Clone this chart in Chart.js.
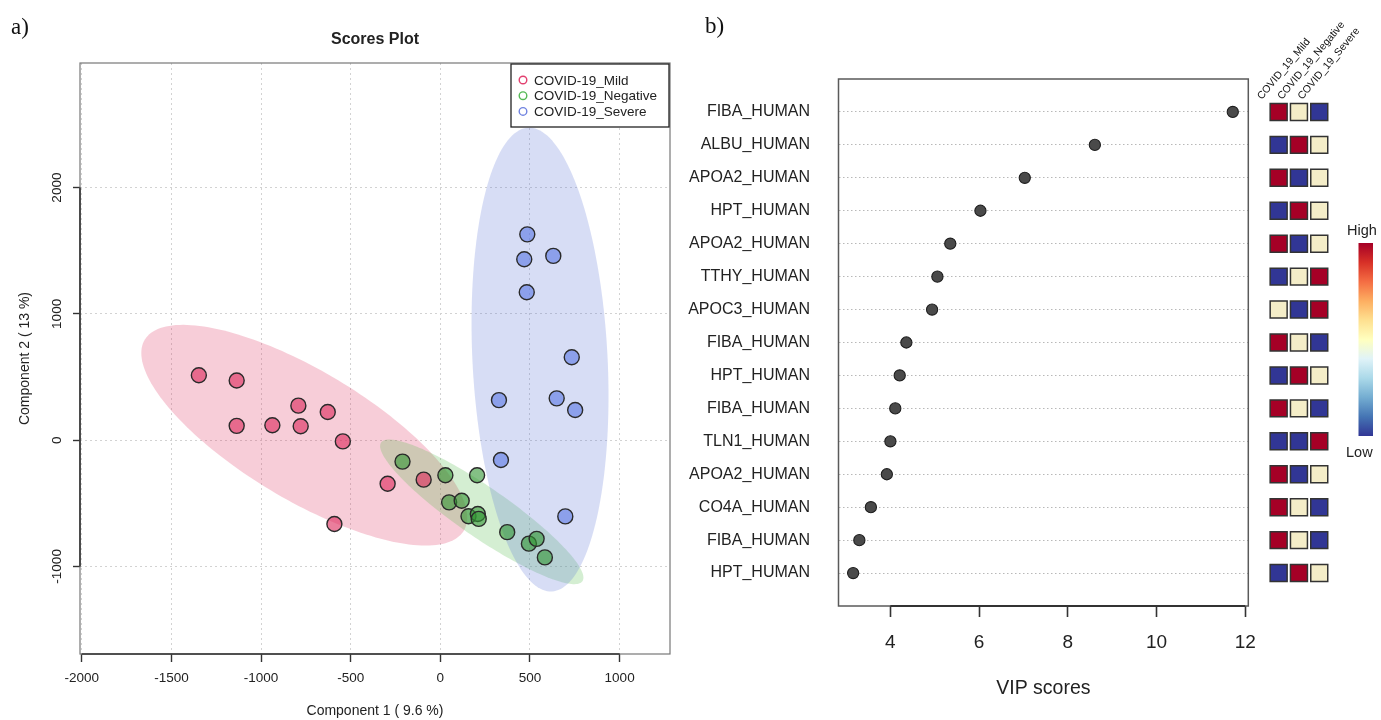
<!DOCTYPE html>
<html>
<head>
<meta charset="utf-8">
<title>Scores plot and VIP scores</title>
<script src="https://cdn.jsdelivr.net/npm/chart.js@4.4.1/dist/chart.umd.min.js"></script>
<style>
  html, body { margin: 0; padding: 0; background: #fff; }
  body { width: 1381px; height: 720px; position: relative; overflow: hidden; }
  canvas { position: absolute; top: 0; }
  #cvScores { left: 0; }
  #cvVip { left: 660px; }
  #cvHeat { left: 1255px; }
  .tag { position: absolute; font-family: "Liberation Serif", "DejaVu Serif", serif; font-size: 23px; color: #111; }
</style>
</head>
<body>
<canvas id="cvScores" width="690" height="720"></canvas>
<canvas id="cvVip" width="595" height="720"></canvas>
<canvas id="cvHeat" width="126" height="720"></canvas>
<div class="tag" style="left:11px;top:14px">a)</div>
<div class="tag" style="left:705px;top:13px">b)</div>
<script>
// ---- scores plot data (component 1 / component 2) ----
const groups = ['COVID-19_Mild', 'COVID-19_Negative', 'COVID-19_Severe'];
const mildX = [-1347, -1136, -1136, -937, -792, -779, -628, -544, -294, -93, -591];
const mildY = [514, 472, 113, 118, 273, 110, 223, -10, -346, -313, -664];
const negX = [-211, 28, 205, 49, 119, 157, 209, 214, 373, 494, 537, 583];
const negY = [-170, -278, -278, -493, -480, -603, -585, -624, -729, -820, -782, -929];
const sevX = [485, 468, 630, 482, 733, 327, 649, 752, 338, 697];
const sevY = [1630, 1433, 1459, 1171, 656, 317, 331, 239, -157, -604];
const scoreXTicks = [-2000, -1500, -1000, -500, 0, 500, 1000];
const scoreYTicks = [-1000, 0, 1000, 2000];

// 95% ellipses: centre, x half-extent, and y components (data units)
const ellCx = [-759, 231, 556];
const ellCy = [39, -568, 638];
const ellAx = [909, 567, 382];
const ellAy = [-651, -521, -289];
const ellBy = [583, 238, 1814];

// ---- VIP data ----
const proteins = ['FIBA_HUMAN', 'ALBU_HUMAN', 'APOA2_HUMAN', 'HPT_HUMAN', 'APOA2_HUMAN', 'TTHY_HUMAN', 'APOC3_HUMAN',
  'FIBA_HUMAN', 'HPT_HUMAN', 'FIBA_HUMAN', 'TLN1_HUMAN', 'APOA2_HUMAN', 'CO4A_HUMAN', 'FIBA_HUMAN', 'HPT_HUMAN'];
const vipScores = [11.72, 8.61, 7.03, 6.03, 5.35, 5.06, 4.94, 4.36, 4.21, 4.11, 4.00, 3.92, 3.56, 3.30, 3.16];
const vipTicks = [4, 6, 8, 10, 12];

// relative level per group: 3 = high, 2 = mid, 1 = low
const heatGroups = ['COVID_19_Mild', 'COVID_19_Negative', 'COVID_19_Severe'];
const mildLevel = [3, 1, 3, 1, 3, 1, 2, 3, 1, 3, 1, 3, 3, 3, 1];
const negLevel = [2, 3, 1, 3, 1, 2, 1, 2, 3, 2, 1, 1, 2, 2, 3];
const sevLevel = [1, 2, 2, 2, 2, 3, 3, 1, 2, 1, 3, 2, 1, 1, 2];

const SANS = '"Liberation Sans", Arial, sans-serif';
Chart.defaults.font.family = SANS;
Chart.defaults.color = '#222';

const pointFill = ['rgba(220,40,90,0.6)', 'rgba(50,150,52,0.6)', 'rgba(90,119,228,0.6)'];
const ellFill = ['rgba(223,55,99,0.25)', 'rgba(83,187,75,0.25)', 'rgba(95,119,215,0.25)'];
const legendCol = ['#e2406f', '#55b955', '#6f82e0'];

const toPts = (xs, ys) => xs.map((x, i) => ({ x, y: ys[i] }));
const noSidePad = s => { s.paddingLeft = 0; s.paddingRight = 0; };

const scoresDecor = {
  id: 'scoresDecor',
  beforeDatasetsDraw(chart) {
    const { ctx, chartArea: a, scales: { x, y } } = chart;
    ctx.save();
    ctx.beginPath();
    ctx.rect(a.left, a.top, a.right - a.left, a.bottom - a.top);
    ctx.clip();
    for (let g = 0; g < ellCx.length; g++) {
      ctx.beginPath();
      for (let k = 0; k <= 180; k++) {
        const t = k / 180 * Math.PI * 2;
        const vx = ellCx[g] + ellAx[g] * Math.cos(t);
        const vy = ellCy[g] + ellAy[g] * Math.cos(t) + ellBy[g] * Math.sin(t);
        const px = x.getPixelForValue(vx), py = y.getPixelForValue(vy);
        if (k) ctx.lineTo(px, py); else ctx.moveTo(px, py);
      }
      ctx.closePath();
      ctx.fillStyle = ellFill[g];
      ctx.fill();
    }
    ctx.restore();
  },
  afterDraw(chart) {
    const { ctx, chartArea: a, scales: { x, y } } = chart;
    ctx.save();
    // box + axis lines
    ctx.strokeStyle = '#777';
    ctx.lineWidth = 1.2;
    ctx.strokeRect(a.left, a.top, a.right - a.left, a.bottom - a.top);
    ctx.strokeStyle = '#333';
    ctx.lineWidth = 1.6;
    ctx.beginPath();
    ctx.moveTo(x.getPixelForValue(scoreXTicks[0]), a.bottom);
    ctx.lineTo(x.getPixelForValue(scoreXTicks[scoreXTicks.length - 1]), a.bottom);
    ctx.moveTo(a.left, y.getPixelForValue(scoreYTicks[0]));
    ctx.lineTo(a.left, y.getPixelForValue(scoreYTicks[scoreYTicks.length - 1]));
    ctx.stroke();

    // y tick labels, parallel to the axis
    ctx.fillStyle = '#222';
    ctx.font = '13.5px ' + SANS;
    ctx.textAlign = 'center';
    ctx.textBaseline = 'middle';
    scoreYTicks.forEach(v => {
      ctx.save();
      ctx.translate(57, y.getPixelForValue(v));
      ctx.rotate(-Math.PI / 2);
      ctx.fillText(String(v), 0, 0);
      ctx.restore();
    });

    // titles
    const cx = (a.left + a.right) / 2;
    ctx.font = 'bold 16px ' + SANS;
    ctx.fillText('Scores Plot', cx, 40);
    ctx.font = '14px ' + SANS;
    ctx.fillText('Component 1 ( 9.6 %)', cx, 711);
    ctx.save();
    ctx.translate(25, (a.top + a.bottom) / 2);
    ctx.rotate(-Math.PI / 2);
    ctx.fillText('Component 2 ( 13 %)', 0, 0);
    ctx.restore();

    // legend (top right, inside)
    const lx = a.right - 159, ly = a.top + 1;
    ctx.fillStyle = '#fff';
    ctx.fillRect(lx, ly, 158, 63);
    ctx.strokeStyle = '#222';
    ctx.lineWidth = 1.3;
    ctx.strokeRect(lx, ly, 158, 63);
    ctx.font = '13.5px ' + SANS;
    ctx.textAlign = 'left';
    groups.forEach((g, i) => {
      const yy = ly + 16 + i * 15.7;
      ctx.beginPath();
      ctx.arc(lx + 12, yy, 3.8, 0, Math.PI * 2);
      ctx.strokeStyle = legendCol[i];
      ctx.lineWidth = 1.4;
      ctx.stroke();
      ctx.fillStyle = '#222';
      ctx.fillText(g, lx + 23, yy + 1);
    });
    ctx.restore();
  }
};

new Chart(document.getElementById('cvScores'), {
  type: 'scatter',
  data: {
    datasets: [
      { label: groups[0], data: toPts(mildX, mildY), backgroundColor: pointFill[0] },
      { label: groups[1], data: toPts(negX, negY), backgroundColor: pointFill[1] },
      { label: groups[2], data: toPts(sevX, sevY), backgroundColor: pointFill[2] }
    ]
  },
  options: {
    responsive: false,
    animation: false,
    layout: { padding: { top: 63, right: 20, left: 0, bottom: 0 } },
    elements: { point: { radius: 7.5, borderColor: '#2a2a2a', borderWidth: 1.4 } },
    plugins: { legend: { display: false }, tooltip: { enabled: false } },
    scales: {
      x: {
        type: 'linear', min: -2010, max: 1281,
        afterBuildTicks: s => { s.ticks = scoreXTicks.map(v => ({ value: v })); },
        afterFit: s => { s.height = 66; noSidePad(s); },
        grid: { color: '#d2d2d2', tickColor: '#333', tickLength: 8, tickWidth: 1.4 },
        border: { display: false, dash: [2, 3] },
        ticks: { font: { size: 13.5 }, padding: 8, maxRotation: 0, callback: v => String(v) }
      },
      y: {
        type: 'linear', min: -1694, max: 2987,
        afterBuildTicks: s => { s.ticks = scoreYTicks.map(v => ({ value: v })); },
        afterFit: s => { s.width = 80; },
        grid: { color: '#d2d2d2', tickColor: '#333', tickLength: 7, tickWidth: 1.4 },
        border: { display: false, dash: [2, 3] },
        ticks: { display: false }
      }
    }
  },
  plugins: [scoresDecor]
});

// ---- panel b: VIP dot chart ----
const vipDecor = {
  id: 'vipDecor',
  afterDraw(chart) {
    const { ctx, chartArea: a, scales: { x } } = chart;
    ctx.save();
    ctx.strokeStyle = '#5a5a5a';
    ctx.lineWidth = 1.5;
    ctx.strokeRect(a.left, a.top, a.right - a.left, a.bottom - a.top);
    ctx.strokeStyle = '#333';
    ctx.lineWidth = 1.8;
    ctx.beginPath();
    ctx.moveTo(x.getPixelForValue(vipTicks[0]), a.bottom);
    ctx.lineTo(x.getPixelForValue(vipTicks[vipTicks.length - 1]), a.bottom);
    ctx.stroke();
    ctx.fillStyle = '#222';
    ctx.font = '19.5px ' + SANS;
    ctx.textAlign = 'center';
    ctx.textBaseline = 'middle';
    ctx.fillText('VIP scores', (a.left + a.right) / 2, 689);
    ctx.restore();
  }
};

new Chart(document.getElementById('cvVip'), {
  type: 'scatter',
  data: {
    datasets: [{
      label: 'VIP',
      data: vipScores.map((v, i) => ({ x: v, y: i + 1 })),
      backgroundColor: '#4a4a4a',
      borderColor: '#1e1e1e',
      borderWidth: 1.1,
      pointRadius: 5.6
    }]
  },
  options: {
    responsive: false,
    animation: false,
    layout: { padding: { top: 79, right: 6, left: 0, bottom: 0 } },
    plugins: { legend: { display: false }, tooltip: { enabled: false } },
    scales: {
      x: {
        type: 'linear', min: 2.83, max: 12.07,
        afterBuildTicks: s => { s.ticks = vipTicks.map(v => ({ value: v })); },
        afterFit: s => { s.height = 114; noSidePad(s); },
        grid: { drawOnChartArea: false, tickColor: '#333', tickLength: 11, tickWidth: 1.6 },
        border: { display: false },
        ticks: { font: { size: 19 }, padding: 14, maxRotation: 0 }
      },
      y: {
        type: 'linear', min: 0, max: 16, reverse: true,
        afterBuildTicks: s => { s.ticks = proteins.map((_, i) => ({ value: i + 1 })); },
        afterFit: s => { s.width = 178.5; },
        grid: { color: '#b8b8b8', drawTicks: false },
        border: { display: false, dash: [1.5, 2.5] },
        ticks: { autoSkip: false, font: { size: 16 }, padding: 28.5, callback: v => proteins[v - 1] || '' }
      }
    }
  },
  plugins: [vipDecor]
});

// ---- panel b: group heat squares + colour key ----
const levelColor = { 1: '#313695', 2: '#F4EDC8', 3: '#A50026' };
const heatCells = [];
const heatFill = [];
[mildLevel, negLevel, sevLevel].forEach((col, c) => {
  col.forEach((lv, r) => {
    heatCells.push({ x: c + 1, y: r + 1 });
    heatFill.push(levelColor[lv]);
  });
});

const heatDecor = {
  id: 'heatDecor',
  afterDraw(chart) {
    const { ctx, scales: { x } } = chart;
    ctx.save();
    ctx.fillStyle = '#111';
    ctx.font = '10.5px ' + SANS;
    ctx.textAlign = 'left';
    ctx.textBaseline = 'alphabetic';
    heatGroups.forEach((g, i) => {
      ctx.save();
      ctx.translate(x.getPixelForValue(i + 1) - 17, 100);
      ctx.rotate(-50 * Math.PI / 180);
      ctx.fillText(g, 0, 0);
      ctx.restore();
    });
    // colour key
    const bx = 103.5, by = 243, bw = 14.5, bh = 193;
    const grad = ctx.createLinearGradient(0, by, 0, by + bh);
    ['#A50026', '#D73027', '#F46D43', '#FDAE61', '#FEE090', '#FFFFBF', '#E0F3F8', '#ABD9E9', '#74ADD1', '#4575B4', '#313695']
      .forEach((c, i, arr) => grad.addColorStop(i / (arr.length - 1), c));
    ctx.fillStyle = grad;
    ctx.fillRect(bx, by, bw, bh);
    ctx.fillStyle = '#222';
    ctx.font = '14.5px ' + SANS;
    ctx.textBaseline = 'middle';
    ctx.fillText('High', 92, 231);
    ctx.fillText('Low', 91, 453);
    ctx.restore();
  }
};

new Chart(document.getElementById('cvHeat'), {
  type: 'scatter',
  data: {
    datasets: [{
      label: 'level',
      data: heatCells,
      backgroundColor: heatFill,
      borderColor: '#333',
      borderWidth: 1.5,
      pointStyle: 'rect',
      pointRadius: 12
    }]
  },
  options: {
    responsive: false,
    animation: false,
    layout: { padding: { top: 79, bottom: 114, left: 9.1, right: 51.6 } },
    plugins: { legend: { display: false }, tooltip: { enabled: false } },
    scales: {
      x: { type: 'linear', min: 0.5, max: 3.5, display: false },
      y: { type: 'linear', min: 0, max: 16, reverse: true, display: false }
    }
  },
  plugins: [heatDecor]
});
</script>
</body>
</html>
